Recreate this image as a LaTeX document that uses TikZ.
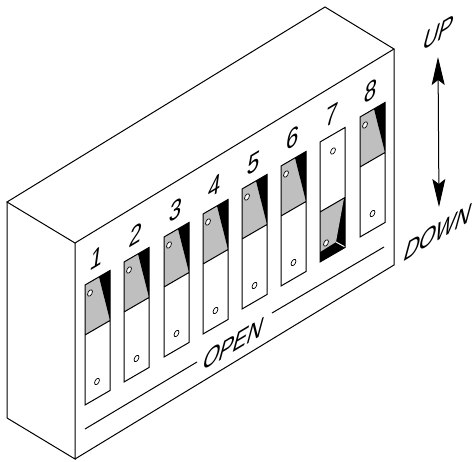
\documentclass[tikz,border=0pt]{standalone}
\usepackage{fontspec}
\setmainfont{Liberation Sans}
\usetikzlibrary{arrows.meta,shapes.geometric}
\tikzset{
	hole/.style = {ellipse,draw,fill = white,inner sep = 0pt,minimum width = 4pt,minimum height = 7pt,rotate = -30,line width = 0.7pt},
	digit/.style = {inner sep = 0pt,cm = {1,0.6,0.18,1.3,(0,0)},font = \fontsize{22}{22}\selectfont},
	word/.style = {inner sep = 0pt,cm = {1,0.6,0.38,1.4,(0,0)},font = \fontsize{21}{21}\selectfont},
	swgray/.style = {fill = gray!50!white},
	swblack/.style = {fill = black},
	swline/.style = {draw,line width = 1pt,line join = miter},
}
\begin{document}
\begin{tikzpicture}[x = 1pt,y = -1pt,line width = 1pt]
		\useasboundingbox (0,0) rectangle (474,462);
		% case
		\draw (75,243) -- (7,202) -- (325,7) -- (394,49) -- cycle;
		\draw (7,202) -- (7,418) -- (75,459) -- (75,243);
		\draw (75,459) -- (394,265) -- (394,49);
		\draw (85,429) -- (197,362);
		\draw (272,313) -- (384,247);
		% switch 1
		\path[swgray] (85,285) -- (99,277) -- (110,320.5) -- (85,335) -- cycle;
		\path[swblack] (99,277) -- (110,270.5) -- (110,320.5) -- cycle;
		\path[swline] (85,285) -- (110,270.5) -- (110,390.5) -- (85,405) -- cycle (85,335) -- (110,320.5);
		\node[hole] (u1) at (90,293){};
		\node[hole] (d1) at (97,381.5){};
		\node[digit] (n1) at (97,258){1};
		% switch 2
		\path[swgray] (124,262) -- (138,254) -- (149,297.5) -- (124,312) -- cycle;
		\path[swblack] (138,254) -- (149,247.5) -- (149,297.5) -- cycle;
		\path[swline] (124,262) -- (149,247.5) -- (149,367.5) -- (124,382) -- cycle (124,312) -- (149,297.5);
		\node[hole] (u2) at (129,270){};
		\node[hole] (d2) at (136.5,358.5){};
		\node[digit] (n2) at (136,235){2};
		% switch 3
		\path[swgray] (164,237) -- (178,229) -- (189,272.5) -- (164,287) -- cycle;
		\path[swblack] (178,229) -- (189,222.5) -- (189,272.5) -- cycle;
		\path[swline] (164,237) -- (189,222.5) -- (189,342.5) -- (164,357) -- cycle (164,287) -- (189,272.5);
		\node[hole] (u3) at (169,245){};
		\node[hole] (d3) at (176.5,333.5){};
		\node[digit] (n3) at (176,210){3};
		% switch 4
		\path[swgray] (203,214) -- (217,206) -- (228,249.5) -- (203,264) -- cycle;
		\path[swblack] (217,206) -- (228,199.5) -- (228,249.5) -- cycle;
		\path[swline] (203,214) -- (228,199.5) -- (228,319.5) -- (203,334) -- cycle (203,264) -- (228,249.5);
		\node[hole] (u4) at (208,222){};
		\node[hole] (d4) at (215.5,310.5){};
		\node[digit] (n4) at (215,186){4};
		% switch 5
		\path[swgray] (242,189) -- (256,181) -- (267,224.5) -- (242,239) -- cycle;
		\path[swblack] (256,181) -- (267,174.5) -- (267,224.5) -- cycle;
		\path[swline] (242,189) -- (267,174.5) -- (267,294.5) -- (242,309) -- cycle (242,239) -- (267,224.5);
		\node[hole] (u5) at (247,197){};
		\node[hole] (d5) at (254.5,285.5){};
		\node[digit] (n5) at (254,163){5};
		% switch 6
		\path[swgray] (281,166) -- (295,158) -- (306,201.5) -- (281,216) -- cycle;
		\path[swblack] (295,158) -- (306,151.5) -- (306,201.5) -- cycle;
		\path[swline] (281,166) -- (306,151.5) -- (306,271.5) -- (281,286) -- cycle (281,216) -- (306,201.5);
		\node[hole] (u6) at (286,174){};
		\node[hole] (d6) at (293.5,262.5){};
		\node[digit] (n6) at (293,138){6};
		% switch 7
		\path[swblack] (320,212) -- (345,197.5) -- (345,247.5) -- (320,262) -- cycle;
		\path[swgray] (320,212) -- (344,198) -- (336,242) -- (320,252) -- cycle;
		\draw[white] (336,242) -- (345,247);
		\path[swline] (320,142) -- (345,127.5) -- (345,247.5) -- (320,262) -- cycle (320,212) -- (345,197.5);
		\node[hole] (u7) at (333,151){};
		\node[hole] (d7) at (326,243){};
		\node[digit] (n7) at (332,115){7};
		% switch 8
		\path[swgray] (360,117) -- (374,109) -- (385,152.5) -- (360,167) -- cycle;
		\path[swblack] (374,109) -- (385,102.5) -- (385,152.5) -- cycle;
		\path[swline] (360,117) -- (385,102.5) -- (385,222.5) -- (360,237) -- cycle (360,167) -- (385,152.5);
		\node[hole] (u8) at (365,125){};
		\node[hole] (d8) at (372.5,213.5){};
		\node[digit] (n8) at (371,91){8};
		% texts and arrow
		\node[word] (open) at (234,344){OPEN};
		\node[word] (up) at (439,33){UP};
		\node[word] (down) at (438,232){DOWN};
		\coordinate (top) at (438,57);
		\coordinate (bot) at (439,207);
		\draw[{Stealth[length = 28pt,width = 13pt,inset = 5pt]}-{Stealth[length = 28pt,width = 13pt,inset = 5pt]}] (top) -- (bot);
		\end{tikzpicture}
\end{document}
